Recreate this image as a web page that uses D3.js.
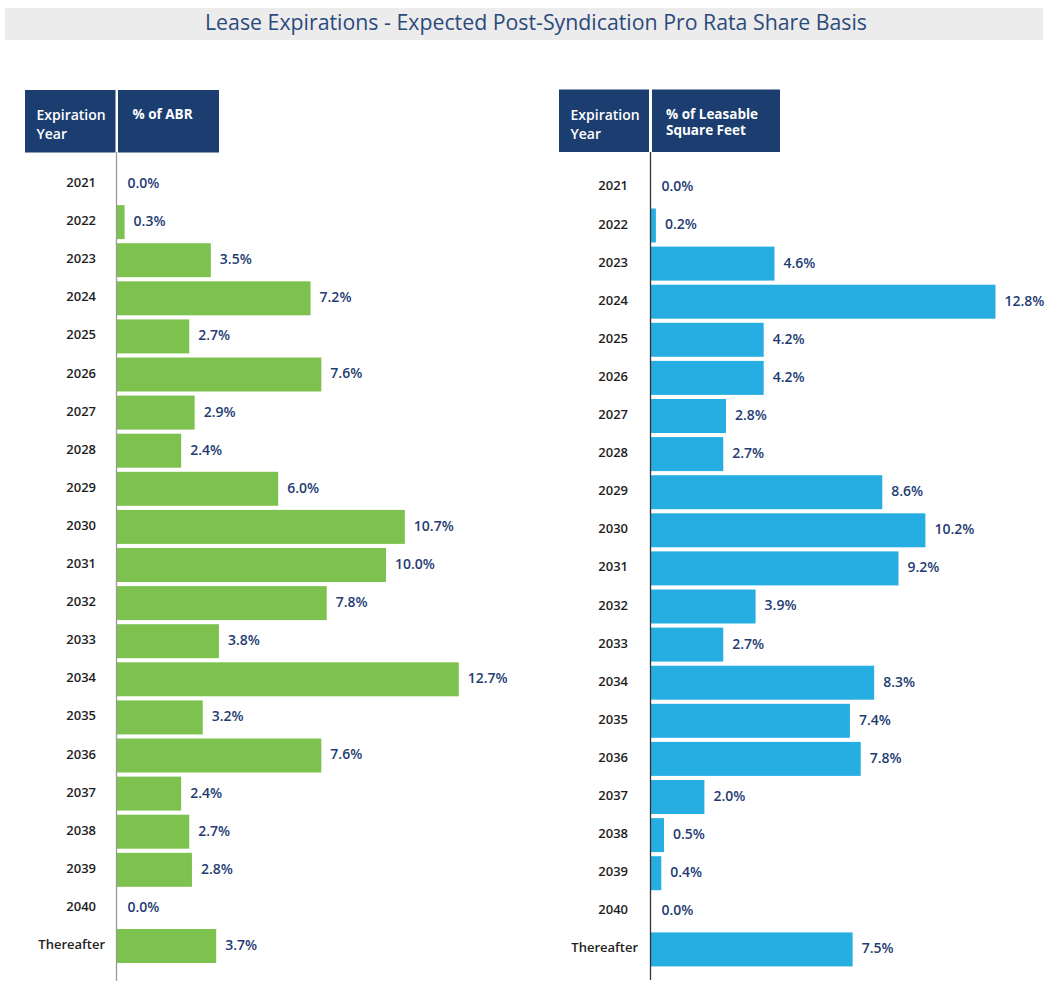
<!DOCTYPE html>
<html>
<head>
<meta charset="utf-8">
<script src="https://cdn.jsdelivr.net/npm/d3@7"></script>
<style>
  html, body { margin: 0; padding: 0; background: #fff; }
  svg { display: block; font-family: "Open Sans", "Noto Sans", sans-serif; }
</style>
</head>
<body>
<svg id="chart" width="1054" height="988"></svg>
<script>
const titleText = "Lease Expirations - Expected Post-Syndication Pro Rata Share Basis";
const years = ["2021","2022","2023","2024","2025","2026","2027","2028","2029","2030","2031","2032","2033","2034","2035","2036","2037","2038","2039","2040","Thereafter"];
const abrValues = [0.0, 0.3, 3.5, 7.2, 2.7, 7.6, 2.9, 2.4, 6.0, 10.7, 10.0, 7.8, 3.8, 12.7, 3.2, 7.6, 2.4, 2.7, 2.8, 0.0, 3.7];
const sqftValues = [0.0, 0.2, 4.6, 12.8, 4.2, 4.2, 2.8, 2.7, 8.6, 10.2, 9.2, 3.9, 2.7, 8.3, 7.4, 7.8, 2.0, 0.5, 0.4, 0.0, 7.5];
const leftHeaders = [["Expiration", "Year"], ["% of ABR"]];
const rightHeaders = [["Expiration", "Year"], ["% of Leasable", "Square Feet"]];

const svg = d3.select("#chart");

// Title bar
svg.append("rect").attr("x", 5).attr("y", 8).attr("width", 1038).attr("height", 32).attr("fill", "#ececec");
svg.append("text").attr("x", 536).attr("y", 30).attr("text-anchor", "middle")
  .attr("fill", "#2b4a7c").attr("font-size", 21).attr("font-weight", 400)
  .attr("textLength", 662).attr("lengthAdjust", "spacingAndGlyphs")
  .text(titleText);

const pxPerPct = 26.95;

function panel(cfg) {
  const g = svg.append("g");
  const x = d3.scaleLinear().domain([0, 1]).range([cfg.axisX, cfg.axisX + pxPerPct]);
  const y = d3.scaleBand().domain(years).range(cfg.yRange).paddingInner(0.108).paddingOuter(0.054);

  // header boxes
  cfg.boxes.forEach((b, i) => {
    g.append("rect").attr("x", b.x).attr("y", b.y).attr("width", b.w).attr("height", b.h).attr("fill", "#1b3d6f");
    const lines = cfg.headers[i];
    const t = g.append("text").attr("fill", "#fff").attr("font-size", b.fs)
      .attr("font-weight", i === 0 ? 600 : 700);
    lines.forEach((ln, j) => {
      t.append("tspan").attr("x", b.tx).attr("y", b.ty + j * b.lh).text(ln);
    });
  });

  // bars
  g.selectAll("rect.bar").data(cfg.values).join("rect").attr("class", "bar")
    .attr("x", x(0))
    .attr("y", (d, i) => y(years[i]))
    .attr("width", d => x(d) - x(0))
    .attr("height", y.bandwidth())
    .attr("fill", cfg.color);

  // axis line
  g.append("line").attr("x1", cfg.axisX).attr("x2", cfg.axisX)
    .attr("y1", 152).attr("y2", cfg.axisEnd)
    .attr("stroke", cfg.axisColor).attr("stroke-width", 1.3);

  // year labels
  g.selectAll("text.year").data(years).join("text").attr("class", "year")
    .attr("x", d => d === "Thereafter" ? cfg.axisX - cfg.thereOff : cfg.axisX - cfg.yearOff)
    .attr("y", d => y(d) + y.bandwidth() / 2 - 1.5)
    .attr("dy", "0.35em")
    .attr("text-anchor", "end")
    .attr("fill", "#1e1e1e").attr("font-size", 13).attr("font-weight", 600)
    .text(d => d);

  // value labels
  g.selectAll("text.val").data(cfg.values).join("text").attr("class", "val")
    .attr("x", d => d === 0 ? x(0) + 11 : x(d) + 9)
    .attr("y", (d, i) => y(years[i]) + y.bandwidth() / 2 - 1)
    .attr("dy", "0.35em")
    .attr("fill", "#1f3d73").attr("font-size", 14).attr("font-weight", 600)
    .text(d => d.toFixed(1) + "%");
}

panel({
  axisX: 116.5, yRange: [164.95, 965.05], values: abrValues, color: "#7dc24f",
  axisColor: "#9a9a9a", axisEnd: 981, yearOff: 20.5, thereOff: 11.5,
  headers: leftHeaders,
  boxes: [
    {x: 25, y: 90, w: 90.5, h: 62.5, tx: 36.5, ty: 120, lh: 19, fs: 14},
    {x: 118, y: 90, w: 101, h: 62.5, tx: 132.5, ty: 119, lh: 15.5, fs: 13.5}
  ]
});

panel({
  axisX: 650.5, yRange: [168.35, 968.45], values: sqftValues, color: "#26aee3",
  axisColor: "#333", axisEnd: 980, yearOff: 22.5, thereOff: 12.5,
  headers: rightHeaders,
  boxes: [
    {x: 559, y: 89.5, w: 90, h: 62.5, tx: 570.5, ty: 120, lh: 19, fs: 14},
    {x: 652, y: 89.5, w: 128, h: 62.5, tx: 666, ty: 118.5, lh: 16.5, fs: 13.5}
  ]
});
</script>
</body>
</html>
